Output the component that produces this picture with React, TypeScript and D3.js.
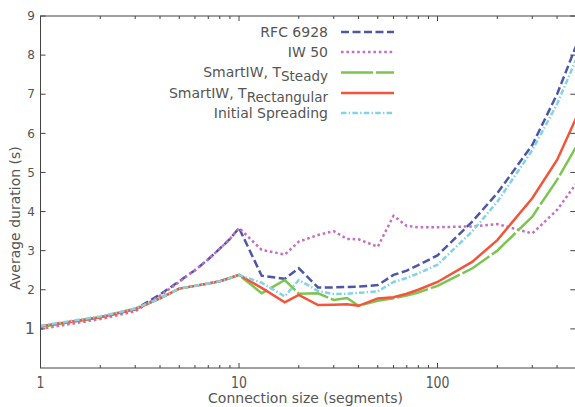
import React from "react";
import * as d3 from "d3";

const sizes = [1, 2, 3, 4, 5, 6, 7, 8, 9, 10, 13, 17, 20, 25, 30, 35, 40, 50, 60, 70, 80, 100, 150, 200, 300, 400, 500];

const rfc6928 = [1.06, 1.3, 1.5, 1.88, 2.22, 2.5, 2.78, 3.05, 3.3, 3.58, 2.36, 2.28, 2.55, 2.06, 2.06, 2.07, 2.08, 2.12, 2.38, 2.49, 2.63, 2.88, 3.75, 4.47, 5.7, 7.0, 8.25];
const iw50 = [1.0, 1.25, 1.45, 1.85, 2.2, 2.5, 2.78, 3.05, 3.3, 3.58, 3.02, 2.9, 3.23, 3.4, 3.5, 3.3, 3.29, 3.1, 3.89, 3.63, 3.6, 3.6, 3.62, 3.68, 3.44, 4.04, 4.72];
const smartSteady = [1.05, 1.3, 1.52, 1.78, 2.03, 2.1, 2.16, 2.22, 2.3, 2.38, 1.91, 2.25, 1.9, 1.91, 1.74, 1.79, 1.59, 1.72, 1.78, 1.85, 1.93, 2.1, 2.55, 3.0, 3.87, 4.81, 5.66];
const smartRect = [1.07, 1.3, 1.5, 1.78, 2.03, 2.1, 2.16, 2.22, 2.3, 2.38, 2.05, 1.68, 1.87, 1.61, 1.62, 1.63, 1.59, 1.78, 1.81, 1.9, 2.0, 2.2, 2.72, 3.27, 4.34, 5.32, 6.4];
const initialSpreading = [1.08, 1.32, 1.52, 1.78, 2.03, 2.1, 2.16, 2.22, 2.3, 2.38, 2.18, 1.83, 2.25, 1.97, 1.89, 1.9, 1.92, 1.96, 2.2, 2.3, 2.42, 2.64, 3.5, 4.25, 5.57, 6.75, 7.9];

const yTicks = [1, 2, 3, 4, 5, 6, 7, 8, 9];
const xTicks = [1, 10, 100];
const xMinor = [2, 3, 4, 5, 6, 7, 8, 9, 20, 30, 40, 50, 60, 70, 80, 90, 200, 300, 400, 500];

const seriesNames = ["RFC 6928", "IW 50", "SmartIW, T", "SmartIW, T", "Initial Spreading"];
const seriesSubs = ["", "", "Steady", "Rectangular", ""];
const seriesColors = ["#4e56a6", "#c46fc0", "#7cc551", "#f3553a", "#83d3e7"];
const seriesDash = ["8,3.5", "2.6,2.8", "32,3", "", "5.5,2.2,1.5,2.2"];
const seriesData = [rfc6928, iw50, smartSteady, smartRect, initialSpreading];

export default function App() {
  const W = 575, H = 407;
  const left = 40.5, right = 576.3, top = 16, bottom = 368;
  const x = d3.scaleLog().domain([1, 500]).range([left, right]);
  const y = d3.scaleLinear().domain([0, 9]).range([bottom, top]);
  const line = d3.line<[number, number]>().x(d => x(d[0])).y(d => y(d[1]));
  const axisColor = "#444";
  const textColor = "#555";
  const font = "DejaVu Sans";

  const legendX = 328, legendLine0 = 341, legendLine1 = 394;
  const legendY = [32, 52, 72.5, 93, 113];

  return (
    <svg width={W} height={H} style={{ position: "absolute", left: 0, top: 0, background: "#fff" }} fontFamily={font}>
      <defs>
        <clipPath id="plot">
          <rect x={left} y={top} width={right - left} height={bottom - top} />
        </clipPath>
      </defs>
      <rect x={0} y={0} width={W} height={H} fill="#fff" />
      {/* lines */}
      <g clipPath="url(#plot)">
        {seriesData.map((s, i) => (
          <path key={i} d={line(sizes.map((v, j) => [v, s[j]] as [number, number])) || ""}
            fill="none" stroke={seriesColors[i]} strokeWidth={2.5}
            strokeDasharray={seriesDash[i] || undefined} strokeLinejoin="miter" />
        ))}
      </g>
      {/* spines */}
      <rect x={left} y={top} width={right - left} height={bottom - top} fill="none" stroke={axisColor} strokeWidth={1} />
      {/* x ticks */}
      {xTicks.map(t => (
        <g key={"xt" + t}>
          <line x1={x(t)} x2={x(t)} y1={bottom} y2={bottom - 5} stroke={axisColor} />
          <line x1={x(t)} x2={x(t)} y1={top} y2={top + 5} stroke={axisColor} />
          <text x={x(t)} y={bottom + 20} textAnchor="middle" fontSize={16} fill={textColor}
            transform={`translate(${x(t)},0) scale(0.78,1) translate(${-x(t)},0)`}>{t}</text>
        </g>
      ))}
      {xMinor.map(t => (
        <g key={"xm" + t}>
          <line x1={x(t)} x2={x(t)} y1={bottom} y2={bottom - 3} stroke={axisColor} />
          <line x1={x(t)} x2={x(t)} y1={top} y2={top + 3} stroke={axisColor} />
        </g>
      ))}
      {/* y ticks */}
      {yTicks.map(t => (
        <g key={"yt" + t}>
          <line x1={left} x2={left + 5} y1={y(t)} y2={y(t)} stroke={axisColor} />
          <line x1={right - 1} x2={right - 6} y1={y(t)} y2={y(t)} stroke={axisColor} />
          <text x={35} y={y(t)} dy="0.35em" textAnchor="end" fontSize={t === 1 ? 16 : 12} fill={textColor}>{t}</text>
        </g>
      ))}
      {/* axis labels */}
      <text x={305.5} y={403} textAnchor="middle" fontSize={14} fill={textColor}>Connection size (segments)</text>
      <text transform={`translate(20,218) rotate(-90)`} textAnchor="middle" fontSize={14} fill={textColor}>Average duration (s)</text>
      {/* legend */}
      {seriesNames.map((n, i) => (
        <g key={"lg" + i}>
          <text x={legendX} y={legendY[i]} dy="0.35em" textAnchor="end" fontSize={14} fill={textColor}>
            {n}
            {seriesSubs[i] ? <tspan dy="4" fontSize={13.5}>{seriesSubs[i]}</tspan> : null}
          </text>
          <line x1={legendLine0} x2={legendLine1} y1={legendY[i]} y2={legendY[i]} stroke={seriesColors[i]}
            strokeWidth={2.5} strokeDasharray={seriesDash[i] || undefined} />
        </g>
      ))}
    </svg>
  );
}
